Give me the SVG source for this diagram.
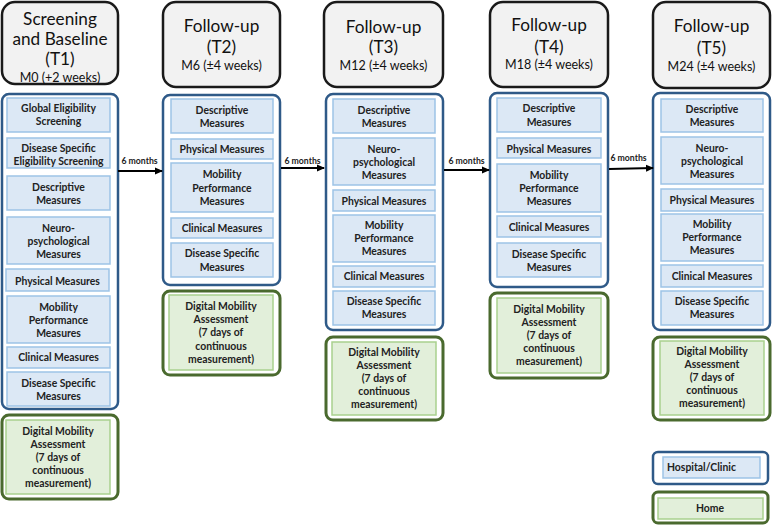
<svg xmlns="http://www.w3.org/2000/svg" width="772" height="526" viewBox="0 0 772 526">
<style>
.hdr{fill:#f2f2f2;stroke:#1a1a1a;stroke-width:2.5}
.bc{fill:#fff;stroke:#2f5a88;stroke-width:2.5}
.bi{fill:#dce8f5;stroke:#9dc3e6;stroke-width:1.5}
.gc{fill:#fff;stroke:#4a6a2e;stroke-width:3}
.gi{fill:#e2efda;stroke:#a9d18e;stroke-width:1.5}
text{font-family:Lato,"Liberation Sans",sans-serif;fill:#222;text-anchor:middle}
.t{font-weight:bold;font-size:10.4px}
.h{font-size:17.2px;fill:#111}
.hs{font-size:12.5px;fill:#111}
.m{font-weight:bold;font-size:8.7px}
.conn line{stroke:#000;stroke-width:2}
</style>
<defs>
<marker id="ah" markerWidth="8" markerHeight="8" refX="7" refY="4" orient="auto" markerUnits="userSpaceOnUse">
<path d="M0,0.5 L8,4 L0,7.5 Z" fill="#000"/>
</marker>
</defs>

<g id="t1">
<rect class="hdr" x="2" y="2" width="116" height="82" rx="13"/>
<text class="h" x="60" y="25">Screening</text>
<text class="h" x="60" y="45">and Baseline</text>
<text class="h" x="60" y="65">(T1)</text>
<text class="hs" x="60" y="81.5">M0 (+2 weeks)</text>
<rect class="bc" x="2" y="94" width="116" height="315" rx="7"/>
<rect class="bi" x="7" y="98" width="103" height="34"/>
<text class="t" x="58.5" y="112">Global Eligibility<tspan x="58.5" dy="13">Screening</tspan></text>
<rect class="bi" x="7" y="138" width="103" height="30"/>
<text class="t" x="58.5" y="151.5">Disease Specific<tspan x="58.5" dy="13">Eligibility Screening</tspan></text>
<rect class="bi" x="7" y="176" width="103" height="34"/>
<text class="t" x="58.5" y="191">Descriptive<tspan x="58.5" dy="13">Measures</tspan></text>
<rect class="bi" x="7" y="217" width="103" height="47"/>
<text class="t" x="58.5" y="232">Neuro-<tspan x="58.5" dy="13">psychological</tspan><tspan x="58.5" dy="13">Measures</tspan></text>
<rect class="bi" x="6" y="269" width="103" height="22"/>
<text class="t" x="57.5" y="284.5">Physical  Measures</text>
<rect class="bi" x="7" y="296" width="103" height="47"/>
<text class="t" x="58.5" y="311">Mobility<tspan x="58.5" dy="13">Performance</tspan><tspan x="58.5" dy="13">Measures</tspan></text>
<rect class="bi" x="7" y="347" width="103" height="21"/>
<text class="t" x="58.5" y="361">Clinical Measures</text>
<rect class="bi" x="7" y="372" width="103" height="34"/>
<text class="t" x="58.5" y="387">Disease Specific<tspan x="58.5" dy="13">Measures</tspan></text>
<rect class="gc" x="2" y="415" width="116" height="84" rx="7"/>
<rect class="gi" x="6" y="420" width="104" height="74"/>
<text class="t" x="58" y="435">Digital Mobility<tspan x="58" dy="13">Assessment</tspan><tspan x="58" dy="13">(7 days of</tspan><tspan x="58" dy="13">continuous</tspan><tspan x="58" dy="13">measurement)</tspan></text>
</g>

<g id="t2">
<rect class="hdr" x="163" y="2" width="117" height="85" rx="13"/>
<text class="h" x="221.5" y="32">Follow-up</text>
<text class="h" x="221.5" y="53">(T2)</text>
<text class="hs" x="221.5" y="70">M6 (±4 weeks)</text>
<rect class="bc" x="163" y="95" width="117" height="190" rx="7"/>
<rect class="bi" x="171" y="99" width="102" height="34"/>
<text class="t" x="222" y="114">Descriptive<tspan x="222" dy="13">Measures</tspan></text>
<rect class="bi" x="171" y="139" width="102" height="20"/>
<text class="t" x="222" y="153">Physical  Measures</text>
<rect class="bi" x="171" y="163" width="102" height="49"/>
<text class="t" x="222" y="178">Mobility<tspan x="222" dy="13.5">Performance</tspan><tspan x="222" dy="13.5">Measures</tspan></text>
<rect class="bi" x="171" y="218" width="102" height="20"/>
<text class="t" x="222" y="232">Clinical Measures</text>
<rect class="bi" x="171" y="243" width="102" height="34"/>
<text class="t" x="222" y="257">Disease Specific<tspan x="222" dy="13.5">Measures</tspan></text>
<rect class="gc" x="163" y="291" width="117" height="84" rx="7"/>
<rect class="gi" x="169" y="295" width="104" height="75"/>
<text class="t" x="221" y="310">Digital Mobility<tspan x="221" dy="13">Assessment</tspan><tspan x="221" dy="13">(7 days of</tspan><tspan x="221" dy="13.5">continuous</tspan><tspan x="221" dy="13.5">measurement)</tspan></text>
</g>

<g id="t3">
<rect class="hdr" x="324" y="2" width="119" height="85" rx="13"/>
<text class="h" x="383.5" y="33">Follow-up</text>
<text class="h" x="383.5" y="53">(T3)</text>
<text class="hs" x="383.5" y="70">M12 (±4 weeks)</text>
<rect class="bc" x="326" y="94" width="117" height="236" rx="7"/>
<rect class="bi" x="333" y="99" width="102" height="34"/>
<text class="t" x="384" y="114">Descriptive<tspan x="384" dy="13">Measures</tspan></text>
<rect class="bi" x="333" y="138" width="102" height="47"/>
<text class="t" x="384" y="152.5">Neuro-<tspan x="384" dy="13">psychological</tspan><tspan x="384" dy="13">Measures</tspan></text>
<rect class="bi" x="333" y="190" width="102" height="21"/>
<text class="t" x="384" y="205">Physical  Measures</text>
<rect class="bi" x="333" y="215" width="102" height="47"/>
<text class="t" x="384" y="229">Mobility<tspan x="384" dy="13">Performance</tspan><tspan x="384" dy="13">Measures</tspan></text>
<rect class="bi" x="333" y="266" width="102" height="21"/>
<text class="t" x="384" y="280">Clinical Measures</text>
<rect class="bi" x="333" y="291" width="102" height="34"/>
<text class="t" x="384" y="305">Disease Specific<tspan x="384" dy="13">Measures</tspan></text>
<rect class="gc" x="326" y="337" width="117" height="83" rx="7"/>
<rect class="gi" x="332" y="342" width="104" height="73"/>
<text class="t" x="384" y="356">Digital Mobility<tspan x="384" dy="13">Assessment</tspan><tspan x="384" dy="13">(7 days of</tspan><tspan x="384" dy="13">continuous</tspan><tspan x="384" dy="13">measurement)</tspan></text>
</g>

<g id="t4">
<rect class="hdr" x="490" y="2" width="118" height="85" rx="13"/>
<text class="h" x="549" y="31">Follow-up</text>
<text class="h" x="549" y="53">(T4)</text>
<text class="hs" x="549" y="69">M18 (±4 weeks)</text>
<rect class="bc" x="490" y="93" width="118" height="194" rx="7"/>
<rect class="bi" x="497" y="98" width="104" height="34"/>
<text class="t" x="549" y="112">Descriptive<tspan x="549" dy="14">Measures</tspan></text>
<rect class="bi" x="497" y="138" width="104" height="20"/>
<text class="t" x="549" y="152.5">Physical  Measures</text>
<rect class="bi" x="497" y="164" width="104" height="48"/>
<text class="t" x="549" y="179">Mobility<tspan x="549" dy="13">Performance</tspan><tspan x="549" dy="13">Measures</tspan></text>
<rect class="bi" x="497" y="216" width="104" height="21"/>
<text class="t" x="549" y="231">Clinical Measures</text>
<rect class="bi" x="497" y="243" width="104" height="34"/>
<text class="t" x="549" y="258">Disease Specific<tspan x="549" dy="13">Measures</tspan></text>
<rect class="gc" x="490" y="293" width="118" height="85" rx="7"/>
<rect class="gi" x="497" y="298" width="104" height="75"/>
<text class="t" x="549" y="313">Digital Mobility<tspan x="549" dy="13">Assessment</tspan><tspan x="549" dy="13">(7 days of</tspan><tspan x="549" dy="13">continuous</tspan><tspan x="549" dy="13">measurement)</tspan></text>
</g>

<g id="t5">
<rect class="hdr" x="653" y="2" width="117" height="86" rx="13"/>
<text class="h" x="711.5" y="32">Follow-up</text>
<text class="h" x="711.5" y="54">(T5)</text>
<text class="hs" x="711.5" y="71">M24 (±4 weeks)</text>
<rect class="bc" x="653" y="93" width="117" height="237" rx="7"/>
<rect class="bi" x="661" y="99" width="102" height="33"/>
<text class="t" x="712" y="113">Descriptive<tspan x="712" dy="13">Measures</tspan></text>
<rect class="bi" x="661" y="137" width="102" height="47"/>
<text class="t" x="712" y="152">Neuro-<tspan x="712" dy="13">psychological</tspan><tspan x="712" dy="13">Measures</tspan></text>
<rect class="bi" x="661" y="189" width="102" height="22"/>
<text class="t" x="712" y="204">Physical  Measures</text>
<rect class="bi" x="661" y="214" width="102" height="47"/>
<text class="t" x="712" y="228">Mobility<tspan x="712" dy="13">Performance</tspan><tspan x="712" dy="13">Measures</tspan></text>
<rect class="bi" x="661" y="265" width="102" height="22"/>
<text class="t" x="712" y="280">Clinical Measures</text>
<rect class="bi" x="661" y="291" width="102" height="34"/>
<text class="t" x="712" y="305">Disease Specific<tspan x="712" dy="13">Measures</tspan></text>
<rect class="gc" x="653" y="337" width="117" height="83" rx="7"/>
<rect class="gi" x="660" y="341" width="104" height="74"/>
<text class="t" x="712" y="355">Digital Mobility<tspan x="712" dy="13">Assessment</tspan><tspan x="712" dy="13">(7 days of</tspan><tspan x="712" dy="13">continuous</tspan><tspan x="712" dy="13">measurement)</tspan></text>
</g>

<g id="legend-hospital">
<rect class="bc" x="653" y="452" width="115" height="32" rx="5"/>
<rect class="bi" x="663" y="457" width="97" height="21"/>
<text class="t" x="667" y="471" style="text-anchor:start">Hospital/Clinic</text>
</g>
<g id="legend-home">
<rect class="gc" x="653" y="492" width="115" height="31" rx="5"/>
<rect class="gi" x="658" y="498" width="105" height="21"/>
<text class="t" x="710" y="512">Home</text>
</g>

<g id="connectors" class="conn">
<line x1="118" y1="171" x2="162" y2="171" marker-end="url(#ah)"/>
<line x1="281" y1="168" x2="324" y2="168" marker-end="url(#ah)"/>
<line x1="444" y1="170" x2="489" y2="170" marker-end="url(#ah)"/>
<line x1="609" y1="169" x2="653" y2="168" marker-end="url(#ah)"/>
<text class="m" x="139.5" y="164">6 months</text>
<text class="m" x="302.5" y="163.5">6 months</text>
<text class="m" x="466.5" y="164">6 months</text>
<text class="m" x="628.5" y="161">6 months</text>
</g>
</svg>
